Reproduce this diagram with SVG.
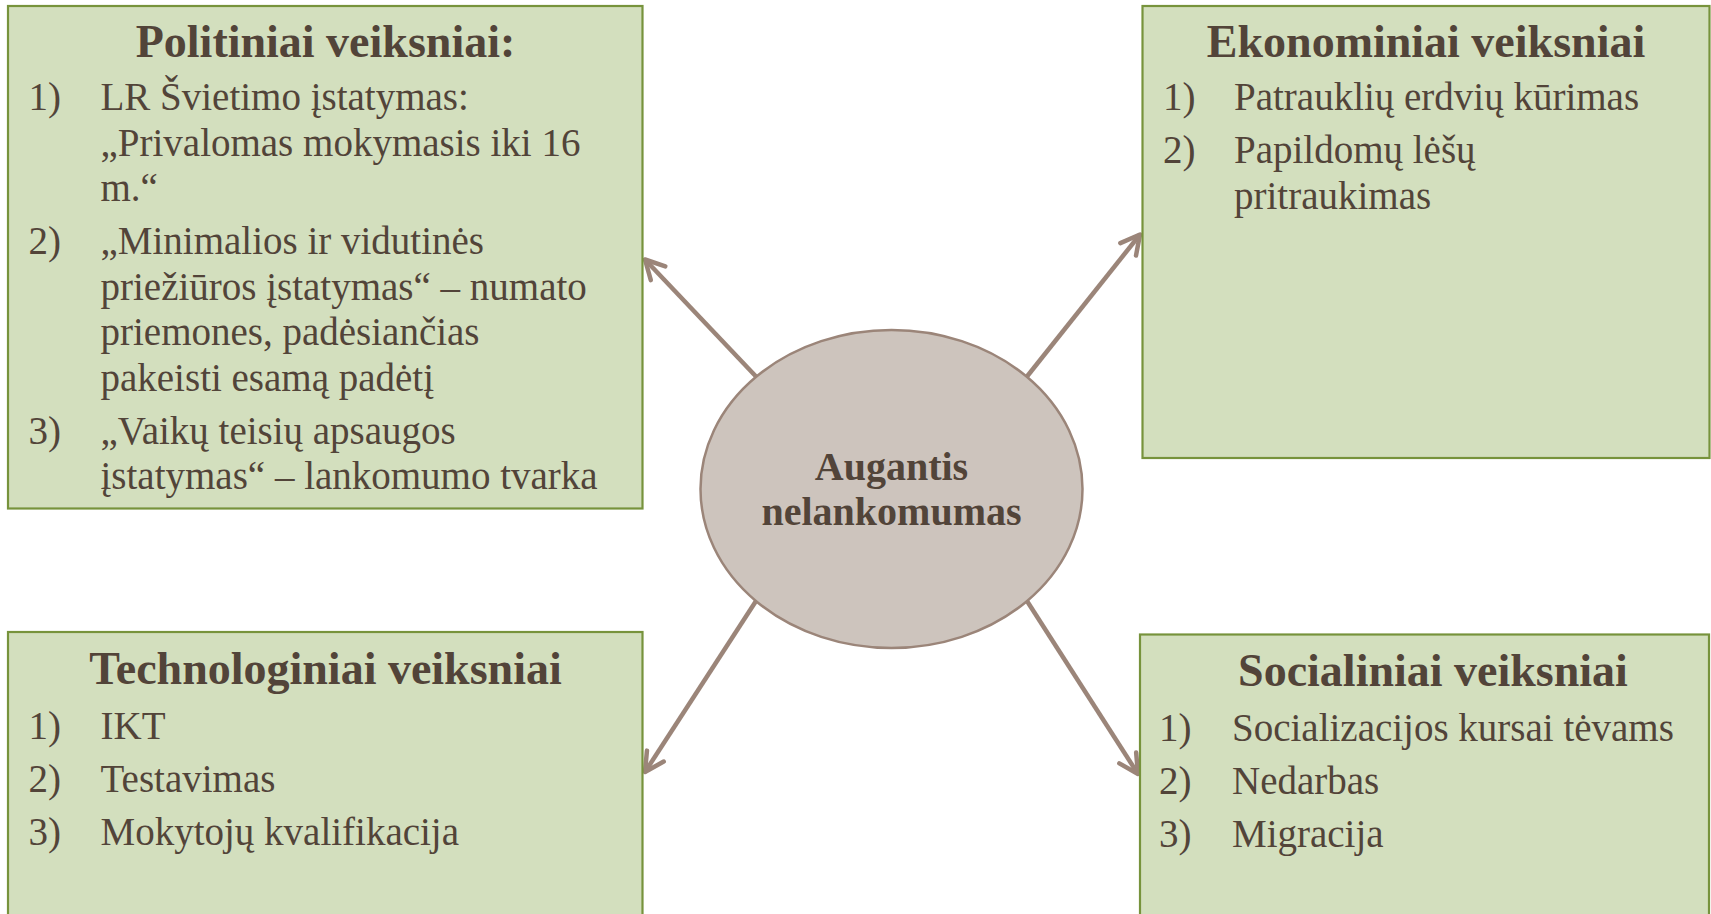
<svg xmlns="http://www.w3.org/2000/svg" width="1711" height="914" viewBox="0 0 1711 914">
<style>
.box{fill:#d3dfbe;stroke:#77933c;stroke-width:2.2}
.title{font-family:"Liberation Serif","Times New Roman",serif;font-weight:bold;font-size:46px;fill:#524439;text-anchor:middle}
.body{font-family:"Liberation Serif","Times New Roman",serif;font-size:39px;fill:#524439}
.ctr{font-family:"Liberation Serif","Times New Roman",serif;font-weight:bold;font-size:40px;fill:#524439;text-anchor:middle}
.conn{stroke:#9b8579;stroke-width:4.5;fill:none;marker-end:url(#arr)}
</style>
<defs>
<marker id="arr" viewBox="-24 -13 28 26" refX="0" refY="0" markerWidth="28" markerHeight="26" markerUnits="userSpaceOnUse" orient="auto">
<path d="M-19,-10 L0,0 L-19,10" fill="none" stroke="#9b8579" stroke-width="4.5" stroke-linecap="round" stroke-linejoin="round"/>
</marker>
</defs>
<g id="connectors">
<line class="conn" x1="756" y1="376.5" x2="645" y2="259.5"/>
<line class="conn" x1="1027" y1="376.5" x2="1140" y2="234.5"/>
<line class="conn" x1="756" y1="601" x2="645" y2="772"/>
<line class="conn" x1="1027" y1="601" x2="1138" y2="774"/>
</g>
<g id="center">
<ellipse cx="891.5" cy="489" rx="191" ry="159" fill="#cdc4bd" stroke="#9b8579" stroke-width="2.5"/>
<text class="ctr" x="891.5" y="480">Augantis</text>
<text class="ctr" x="891.5" y="525">nelankomumas</text>
</g>
<g id="politiniai">
<rect class="box" x="8" y="6" width="634.5" height="502.5"/>
<text class="title" x="325.5" y="57">Politiniai veiksniai:</text>
<text class="body" x="28.5" y="110">1)</text>
<text class="body" x="100.5" y="110">LR Švietimo įstatymas:</text>
<text class="body" x="100.5" y="155.5">„Privalomas mokymasis iki 16</text>
<text class="body" x="100.5" y="201">m.“</text>
<text class="body" x="28.5" y="254">2)</text>
<text class="body" x="100.5" y="254">„Minimalios ir vidutinės</text>
<text class="body" x="100.5" y="299.5">priežiūros įstatymas“ – numato</text>
<text class="body" x="100.5" y="345">priemones, padėsiančias</text>
<text class="body" x="100.5" y="390.5">pakeisti esamą padėtį</text>
<text class="body" x="28.5" y="443.5">3)</text>
<text class="body" x="100.5" y="443.5">„Vaikų teisių apsaugos</text>
<text class="body" x="100.5" y="489">įstatymas“ – lankomumo tvarka</text>
</g>
<g id="ekonominiai">
<rect class="box" x="1142.5" y="6" width="567" height="452"/>
<text class="title" x="1426" y="57">Ekonominiai veiksniai</text>
<text class="body" x="1163" y="110">1)</text>
<text class="body" x="1234" y="110">Patrauklių erdvių kūrimas</text>
<text class="body" x="1163" y="163">2)</text>
<text class="body" x="1234" y="163">Papildomų lėšų</text>
<text class="body" x="1234" y="208.5">pritraukimas</text>
</g>
<g id="technologiniai">
<rect class="box" x="8" y="632" width="634.5" height="300"/>
<text class="title" x="325.5" y="683.5">Technologiniai veiksniai</text>
<text class="body" x="28.5" y="739">1)</text>
<text class="body" x="100.5" y="739">IKT</text>
<text class="body" x="28.5" y="792">2)</text>
<text class="body" x="100.5" y="792">Testavimas</text>
<text class="body" x="28.5" y="845">3)</text>
<text class="body" x="100.5" y="845">Mokytojų kvalifikacija</text>
</g>
<g id="socialiniai">
<rect class="box" x="1140" y="634.5" width="569" height="300"/>
<text class="title" x="1433" y="685.5">Socialiniai veiksniai</text>
<text class="body" x="1159" y="741">1)</text>
<text class="body" x="1232" y="741">Socializacijos kursai tėvams</text>
<text class="body" x="1159" y="794">2)</text>
<text class="body" x="1232" y="794">Nedarbas</text>
<text class="body" x="1159" y="847">3)</text>
<text class="body" x="1232" y="847">Migracija</text>
</g>
</svg>
